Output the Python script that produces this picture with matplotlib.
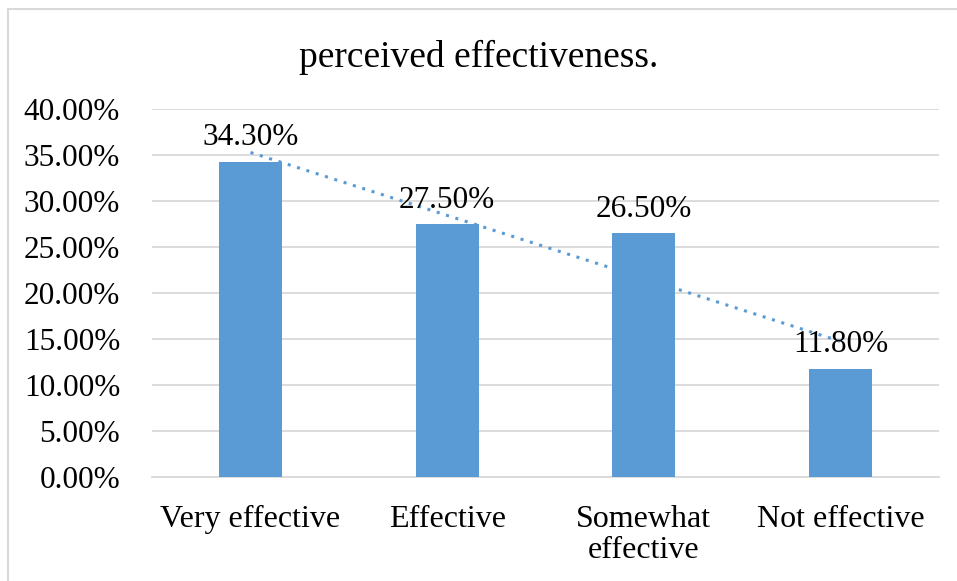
import matplotlib.pyplot as plt
import numpy as np
from matplotlib.patches import Rectangle
from matplotlib.ticker import FuncFormatter, MultipleLocator

categories = ['Very effective', 'Effective', 'Somewhat\neffective', 'Not effective']
values = [34.3, 27.5, 26.5, 11.8]
title = 'perceived effectiveness.'

plt.rcParams['font.family'] = ['Liberation Serif', 'DejaVu Serif']

fig = plt.figure(figsize=(9.57, 5.81), dpi=100)
ax = fig.add_axes([0.159, 0.179, 0.822, 0.633])

x = np.arange(len(categories))
ax.bar(x, values, width=0.32, color='#5B9BD5', zorder=3)

# linear trendline like excel
k, b = np.polyfit(x, values, 1)
ax.plot(x, k * x + b, linestyle=(0, (1, 2.2)), linewidth=2.2, color='#5B9BD5', zorder=4)

for xi, v in zip(x, values):
    ax.text(xi, v + 1.0, f'{v:.2f}%', ha='center', va='bottom', fontsize=22.5, zorder=5)

ax.set_xlim(-0.5, len(categories) - 0.5)
ax.set_ylim(0, 40)
ax.yaxis.set_major_locator(MultipleLocator(5))
ax.yaxis.set_major_formatter(FuncFormatter(lambda v, p: f'{v:.2f}%'))
ax.set_xticks(x)
ax.set_xticklabels(categories, fontsize=23, linespacing=1.12)
ax.tick_params(axis='y', labelsize=22.5, length=0, pad=23)
ax.tick_params(axis='x', length=0, pad=20)
ax.grid(axis='y', color='#D9D9D9', linewidth=1.3, zorder=0)
for s in ['top', 'right', 'left']:
    ax.spines[s].set_visible(False)
ax.spines['bottom'].set_color('#D9D9D9')
ax.spines['bottom'].set_linewidth(1.3)

fig.text(0.5, 1 - 57 / 581, title, ha='center', va='center', fontsize=27)

# chart border
fig.patches.append(Rectangle((8 / 957, -0.1), 1.2, 1 - 9 / 581 + 0.1, transform=fig.transFigure,
                             fill=False, edgecolor='#D9D9D9', linewidth=1.5))

fig.savefig('out.png', dpi=100)
